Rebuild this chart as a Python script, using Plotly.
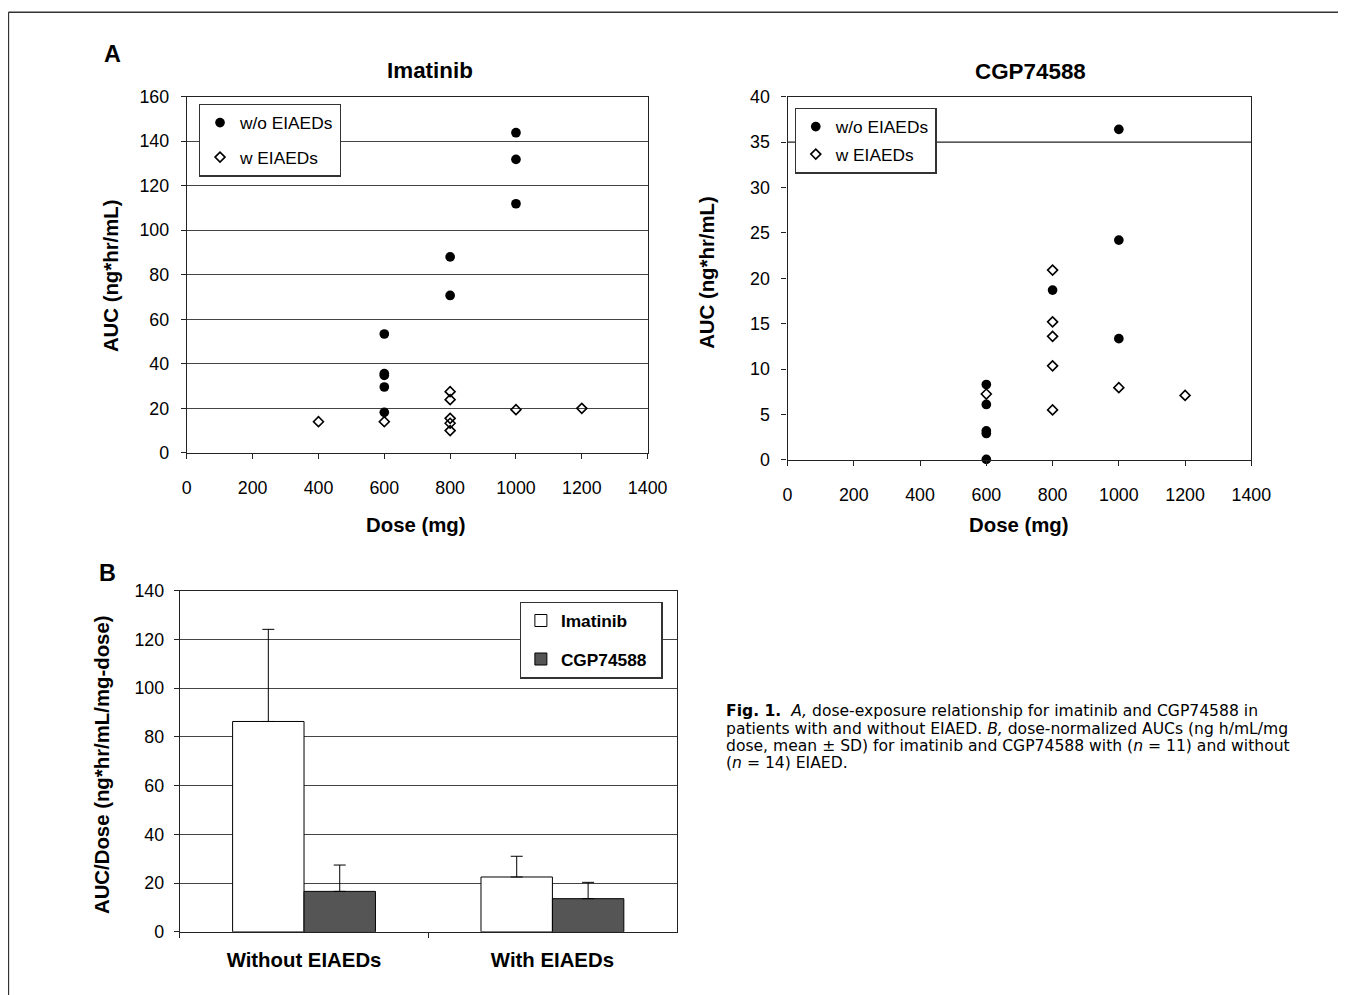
import plotly.graph_objects as go

# Empirical placement: the rendered page shows the figure origin at about
# (11.3, 17.5) px and scaled by ~0.982, so reference pixel positions are mapped
# back through that transform.
S = 0.982
PX0, PY0 = 11.3, 17.5
W, H = 1356, 994

# ---------------- data ----------------
# Panel A, Imatinib
dose_wo_imatinib = [600, 600, 600, 600, 600, 800, 800, 1000, 1000, 1000]
auc_wo_imatinib = [53.4, 35.6, 34.8, 29.6, 18.2, 88.0, 70.7, 143.8, 131.8, 111.9]
dose_w_imatinib = [400, 600, 800, 800, 800, 800, 800, 1000, 1200]
auc_w_imatinib = [14.0, 14.0, 27.5, 23.9, 15.5, 13.3, 10.0, 19.4, 20.0]

# Panel A, CGP74588
dose_wo_cgp = [600, 600, 600, 600, 600, 800, 1000, 1000, 1000]
auc_wo_cgp = [8.3, 6.1, 3.2, 2.9, 0.05, 18.7, 36.4, 24.2, 13.35]
dose_w_cgp = [600, 800, 800, 800, 800, 800, 1000, 1200]
auc_w_cgp = [7.25, 20.9, 15.2, 13.6, 10.35, 5.5, 7.95, 7.1]
cgp_gridlines = [35]

# Panel B
groups = ["Without EIAEDs", "With EIAEDs"]
imatinib_mean = [86.3, 22.5]
imatinib_sd = [37.8, 8.5]
cgp_mean = [16.6, 13.6]
cgp_sd = [10.8, 6.7]

# ---------------- helpers ----------------
FONT = "Liberation Sans, Arial, sans-serif"
CAP_FONT = "DejaVu Sans, Liberation Sans, sans-serif"


def px(x):
    return (x / S - PX0) / W


def py(y):
    return 1 - (y / S - PY0) / H


def fs(size):
    return round(size / S, 2)


fig = go.Figure()

# Panel A imatinib
fig.add_trace(go.Scatter(
    x=dose_wo_imatinib, y=auc_wo_imatinib, mode="markers", name="w/o EIAEDs",
    marker=dict(symbol="circle", size=fs(9.5), color="black"),
    xaxis="x", yaxis="y", legend="legend", legendgroup="a1"))
fig.add_trace(go.Scatter(
    x=dose_w_imatinib, y=auc_w_imatinib, mode="markers", name="w EIAEDs",
    marker=dict(symbol="diamond-open", size=fs(7.5), color="black", line=dict(width=1.6, color="black")),
    xaxis="x", yaxis="y", legend="legend", legendgroup="a2"))

# Panel A CGP
fig.add_trace(go.Scatter(
    x=dose_wo_cgp, y=auc_wo_cgp, mode="markers", name="w/o EIAEDs",
    marker=dict(symbol="circle", size=fs(9.5), color="black"),
    xaxis="x2", yaxis="y2", legend="legend2", legendgroup="b1", cliponaxis=False))
fig.add_trace(go.Scatter(
    x=dose_w_cgp, y=auc_w_cgp, mode="markers", name="w EIAEDs",
    marker=dict(symbol="diamond-open", size=fs(7.5), color="black", line=dict(width=1.6, color="black")),
    xaxis="x2", yaxis="y2", legend="legend2", legendgroup="b2"))

# Panel B bars
fig.add_trace(go.Bar(
    x=groups, y=imatinib_mean, name="Imatinib",
    marker=dict(color="white", line=dict(color="black", width=1)),
    error_y=dict(type="data", array=imatinib_sd, arrayminus=[0] * len(imatinib_sd),
                 symmetric=False, color="black", thickness=1, width=6),
    xaxis="x3", yaxis="y3", legend="legend3", legendgroup="c1"))
fig.add_trace(go.Bar(
    x=groups, y=cgp_mean, name="CGP74588\u00a0\u00a0",
    marker=dict(color="#555555", line=dict(color="black", width=1)),
    error_y=dict(type="data", array=cgp_sd, arrayminus=[0] * len(cgp_sd),
                 symmetric=False, color="black", thickness=1, width=6),
    xaxis="x3", yaxis="y3", legend="legend3", legendgroup="c2"))

tickfont = dict(family=FONT, size=fs(17.5), color="black")
axis_common = dict(showline=True, linecolor="#222", linewidth=1.3, mirror=True,
                   ticks="outside", ticklen=5, tickcolor="#222", tickwidth=1,
                   tickfont=tickfont, zeroline=False)

fig.update_layout(
    width=W, height=H,
    margin=dict(l=0, r=0, t=0, b=0),
    paper_bgcolor="white", plot_bgcolor="white",
    font=dict(family=FONT, color="black"),
    barmode="group", bargap=0.425, bargroupgap=0,
    xaxis=dict(domain=[px(185), px(646)], range=[0, 1400], dtick=200, showgrid=False,
               anchor="y", ticklabelstandoff=14, **axis_common),
    yaxis=dict(domain=[py(453), py(96)], range=[0, 160], dtick=20, showgrid=True,
               gridcolor="#444", gridwidth=1.2, anchor="x", ticklabelstandoff=8,
               **axis_common),
    xaxis2=dict(domain=[px(786), px(1250)], range=[0, 1400], dtick=200, showgrid=False,
                anchor="y2", ticklabelstandoff=14, **axis_common),
    yaxis2=dict(domain=[py(460), py(96)], range=[0, 40], dtick=5, showgrid=False,
                anchor="x2", ticklabelstandoff=8, **axis_common),
    xaxis3=dict(domain=[px(178), px(675)], type="category", tickson="boundaries",
                showgrid=False, anchor="y3", ticklabelstandoff=10,
                **{**axis_common, "tickfont": dict(family=FONT, size=fs(20), color="black", weight="bold")}),
    yaxis3=dict(domain=[py(933), py(591)], range=[0, 140], dtick=20, showgrid=True,
                gridcolor="#444", gridwidth=1.2, anchor="x3", ticklabelstandoff=6,
                **axis_common),
    legend=dict(x=px(197), y=py(103), xanchor="left", yanchor="top",
                bordercolor="#333", borderwidth=1.2, bgcolor="white",
                font=dict(family=FONT, size=fs(17), color="black"),
                tracegroupgap=9, traceorder="grouped"),
    legend2=dict(x=px(793), y=py(107), xanchor="left", yanchor="top",
                 bordercolor="#333", borderwidth=1.2, bgcolor="white",
                 font=dict(family=FONT, size=fs(17), color="black"),
                 tracegroupgap=2, traceorder="grouped"),
    legend3=dict(x=px(518), y=py(602), xanchor="left", yanchor="top",
                 bordercolor="#333", borderwidth=1.2, bgcolor="white",
                 font=dict(family=FONT, size=fs(17), color="black", weight="bold"),
                 tracegroupgap=13, traceorder="grouped"),
    showlegend=True,
)

# single gridline in CGP panel
for g in cgp_gridlines:
    fig.add_shape(type="line", xref="x2 domain", yref="y2", x0=0, x1=1, y0=g, y1=g,
                  line=dict(color="#222", width=1.2), layer="below")

# outer frame (open at right/bottom)
fig.add_shape(type="line", xref="paper", yref="paper", x0=px(6.5), x1=1.01, y0=py(11.5), y1=py(11.5),
              line=dict(color="#333", width=1.5))
fig.add_shape(type="line", xref="paper", yref="paper", x0=px(6.5), x1=px(6.5), y0=py(11.5), y1=-0.02,
              line=dict(color="#333", width=1.5))


def ann(text, x, y, size, bold=False, angle=0, xanchor="center", family=FONT):
    fig.add_annotation(text=text, x=px(x), y=py(y), xref="paper", yref="paper",
                       showarrow=False, xanchor=xanchor, yanchor="middle", textangle=angle,
                       font=dict(family=family, size=fs(size), color="black",
                                 weight="bold" if bold else "normal"))


ann("A", 111, 53, 23, bold=True)
ann("B", 106, 573, 23, bold=True)
ann("Imatinib", 428, 70, 22, bold=True)
ann("CGP74588", 1029, 71, 22, bold=True)
ann("Dose (mg)", 414, 525, 20, bold=True)
ann("Dose (mg)", 1018, 525, 20, bold=True)
ann("AUC (ng*hr/mL)", 109, 275, 20, bold=True, angle=-90)
ann("AUC (ng*hr/mL)", 706, 272, 20, bold=True, angle=-90)
ann("AUC/Dose (ng*hr/mL/mg-dose)", 100, 765, 20, bold=True, angle=-90)

caption_lines = [
    "<b>Fig. 1.</b>  <i>A,</i> dose-exposure relationship for imatinib and CGP74588 in",
    "patients with and without EIAED. <i>B,</i> dose-normalized AUCs (ng h/mL/mg",
    "dose, mean ± SD) for imatinib and CGP74588 with (<i>n</i> = 11) and without",
    "(<i>n</i> = 14) EIAED.",
]
caption_y = [712, 730, 747, 764]
for line, yy in zip(caption_lines, caption_y):
    ann(line, 722, yy, 15.3, xanchor="left", family=CAP_FONT)

fig.write_html("out.html")
